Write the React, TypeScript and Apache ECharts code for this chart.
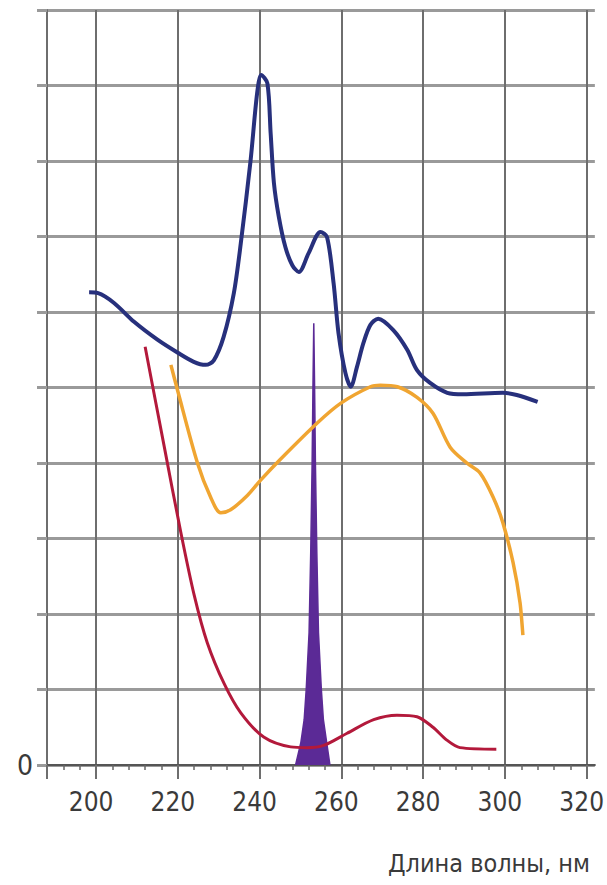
import React, { useEffect, useRef } from 'react';
import * as echarts from 'echarts';

// Wavelength (nm), value
const blueCurve: [number, number][] = [
  [198.3, 6.26], [200.5, 6.25], [204.4, 6.12], [209.3, 5.87], [215.1, 5.63], [220.0, 5.46],
  [223.9, 5.34], [226.8, 5.3], [228.8, 5.36], [231.2, 5.67], [233.7, 6.25], [235.4, 6.91],
  [237.8, 8.01], [239.4, 8.9], [240.4, 9.14], [241.9, 9.03], [242.7, 8.37], [243.5, 7.71],
  [244.7, 7.26], [246.3, 6.86], [248.0, 6.62], [249.6, 6.53], [252.0, 6.78], [254.9, 7.06],
  [256.5, 6.99], [258.1, 6.38], [259.3, 5.72], [261.0, 5.19], [262.3, 5.01], [263.8, 5.27],
  [265.4, 5.59], [267.1, 5.83], [269.0, 5.91], [272.7, 5.76], [276.1, 5.5], [278.5, 5.23],
  [281.7, 5.06], [285.9, 4.93], [289.8, 4.91], [299.5, 4.93], [302.9, 4.9], [308.0, 4.81],
];

const orangeCurve: [number, number][] = [
  [218.3, 5.3], [219.9, 4.97], [224.8, 4.0], [228.0, 3.55], [230.5, 3.34], [232.9, 3.38],
  [237.0, 3.57], [240.2, 3.77], [245.1, 4.05], [254.1, 4.53], [259.8, 4.79], [267.1, 5.01],
  [269.5, 5.03], [273.7, 5.01], [278.5, 4.87], [282.4, 4.66], [286.6, 4.21], [290.7, 4.0],
  [293.9, 3.87], [297.1, 3.55], [299.5, 3.21], [302.0, 2.68], [303.7, 2.15], [304.4, 1.72],
];

const redCurve: [number, number][] = [
  [212.0, 5.54], [216.7, 4.21], [220.7, 3.09], [224.0, 2.25], [227.2, 1.62], [231.3, 1.08],
  [235.4, 0.69], [241.0, 0.37], [247.6, 0.24], [251.6, 0.23], [255.7, 0.26], [261.4, 0.42],
  [267.9, 0.6], [273.6, 0.66], [278.5, 0.64], [282.4, 0.5], [285.8, 0.33], [289.0, 0.23],
  [297.9, 0.21],
];

const spikeCurve: [number, number][] = [
  [248.8, 0], [250.1, 0.3], [250.9, 0.6], [251.4, 1.0], [252.1, 1.75], [252.5, 2.8],
  [252.85, 4.0], [253.05, 5.0], [253.25, 5.85], [253.45, 5.0], [253.65, 4.0], [254.0, 2.8],
  [254.4, 1.75], [255.1, 1.0], [255.6, 0.6], [256.4, 0.3], [257.2, 0],
];

const majorTicks = [188, 200, 220, 240, 260, 280, 300, 320];
const tickLabels = [200, 220, 240, 260, 280, 300, 320];
const minorTicks = [192, 196, 204, 208, 212, 216, 224, 228, 232, 236, 244, 248, 252, 256,
  264, 268, 272, 276, 284, 288, 292, 296, 304, 308, 312, 316];

const FONT = '"Liberation Sans Narrow", "DejaVu Sans Condensed", "Liberation Sans", sans-serif';

export default function App() {
  const ref = useRef<HTMLDivElement>(null);
  useEffect(() => {
    const chart = echarts.init(ref.current!, null, { renderer: 'svg' });
    chart.setOption({
      animation: false,
      backgroundColor: '#ffffff',
      title: {
        text: 'Длина волны, нм',
        right: 12,
        bottom: 4,
        textStyle: { fontFamily: FONT, fontSize: 25, fontWeight: 'normal', color: '#3a3a3a' },
      },
      grid: { left: 47, right: 12, top: 10, bottom: 120 },
      xAxis: [
        {
          type: 'value', min: 188, max: 322, position: 'bottom',
          axisLine: { show: true, onZero: false, lineStyle: { color: '#555', width: 2 } },
          axisTick: { show: true, customValues: majorTicks, length: 14, lineStyle: { color: '#6e6e6e', width: 2 } },
          axisLabel: {
            customValues: tickLabels, fontFamily: FONT, fontSize: 26, color: '#3a3a3a',
            margin: 24, padding: [0, 10, 0, 0],
          },
          splitLine: { show: true, lineStyle: { color: '#6e6e6e', width: 2 } },
        },
        {
          type: 'value', min: 188, max: 322, position: 'bottom',
          axisLine: { show: false },
          axisTick: { show: true, customValues: minorTicks, length: 5, lineStyle: { color: '#666', width: 1.5 } },
          axisLabel: { show: false },
          splitLine: { show: false },
        },
      ],
      yAxis: {
        type: 'value', min: 0, max: 10, interval: 1,
        axisLine: { show: true, onZero: false, lineStyle: { color: '#6e6e6e', width: 2 } },
        axisTick: { show: true, length: 10, lineStyle: { color: '#9a9a9a', width: 3 } },
        axisLabel: {
          formatter: (v: number) => (v === 0 ? '0' : ''),
          fontFamily: FONT, fontSize: 28, color: '#3a3a3a', margin: 14,
        },
        splitLine: { show: true, lineStyle: { color: '#9a9a9a', width: 3 } },
      },
      series: [
        {
          type: 'line', data: spikeCurve, showSymbol: false, smooth: false,
          lineStyle: { color: '#5b2a96', width: 1.5 },
          areaStyle: { color: '#5b2a96', opacity: 1 },
          z: 2,
        },
        {
          type: 'line', data: redCurve, showSymbol: false, smooth: 0.3,
          lineStyle: { color: '#b3193b', width: 3 },
          z: 3,
        },
        {
          type: 'line', data: orangeCurve, showSymbol: false, smooth: 0.3,
          lineStyle: { color: '#f0a531', width: 3.5 },
          z: 4,
        },
        {
          type: 'line', data: blueCurve, showSymbol: false, smooth: 0.3,
          lineStyle: { color: '#27307c', width: 4 },
          z: 5,
        },
      ],
    });
    return () => chart.dispose();
  }, []);
  return (
    <div
      ref={ref}
      style={{ position: 'absolute', left: 0, top: 0, width: 607, height: 885, background: '#fff' }}
    />
  );
}
